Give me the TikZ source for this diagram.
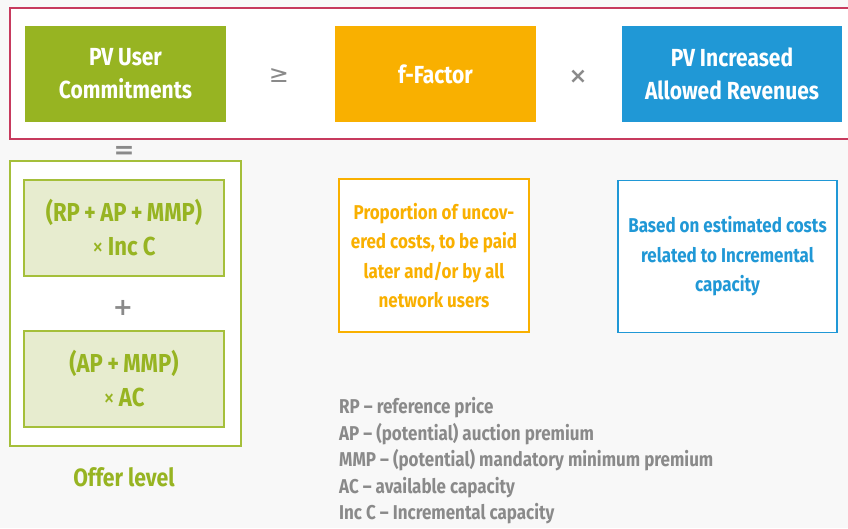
\documentclass[tikz,border=0pt]{standalone}
\usepackage{fontspec}
\setmainfont[FakeStretch=0.85]{Fira Sans}
\newfontfamily\symfont{DejaVu Sans}
\definecolor{bgc}{HTML}{F8F8F8}
\definecolor{grc}{HTML}{97B422}
\definecolor{orc}{HTML}{F9B000}
\definecolor{blc}{HTML}{2098D6}
\definecolor{lgfill}{HTML}{E7ECCF}
\definecolor{lgdraw}{HTML}{A5BF3A}
\definecolor{redc}{HTML}{C73A5E}
\definecolor{greyc}{HTML}{8A8A8A}
\tikzset{
  topbox/.style={minimum width=201pt, minimum height=96pt, inner sep=0pt, align=center,
    text=white, font=\fontsize{24.7}{33}\selectfont\bfseries},
  descbox/.style={inner sep=0pt, align=center, fill=white, line width=1.2pt,
    font=\fontsize{20}{29.5}\selectfont\bfseries},
  formbox/.style={minimum width=200pt, minimum height=96pt, inner sep=0pt, align=center,
    fill=lgfill, draw=lgdraw, line width=1.5pt, text=grc,
    font=\fontsize{26}{34}\selectfont\bfseries},
  opsym/.style={text=greyc, inner sep=0pt},
}
\begin{document}
\begin{tikzpicture}[x=1pt,y=-1pt]
\useasboundingbox (0,0) rectangle (848,528);
\fill[bgc] (0,0) rectangle (848,528);
% top frame
\fill[white] (10,8) rectangle (848,139);
\draw[redc, line width=1.5pt] (848,8) -- (10,8) -- (10,139) -- (848,139);
% top boxes
\node[topbox, fill=grc] (puc) at (125.5,74) {PV User\\Commitments};
\node[topbox, fill=orc] (ff) at (435.5,74) {f-Factor};
\node[topbox, fill=blc, minimum width=220pt] (pvi) at (732,74) {PV Increased\\Allowed Revenues};
\node[opsym, font=\symfont\fontsize{24}{24}\selectfont] (geq) at (279,76) {≥};
\node[opsym, font=\symfont\bfseries\fontsize{22}{22}\selectfont] (times) at (578,77) {×};
\node[opsym, font=\symfont\bfseries\fontsize{25}{25}\selectfont] (eq) at (124,152.5) {=};
% offer level frame
\node[draw=lgdraw, fill=white, line width=1.5pt, minimum width=231pt, minimum height=285pt, inner sep=0pt] (offer) at (125.5,303.5) {};
\node[formbox] (f1) at (124,228) {(RP\,+\,AP\,+\,MMP)\\{\mdseries×}\,Inc C};
\node[opsym, font=\symfont\bfseries\fontsize{24}{24}\selectfont] (plus) at (123,308) {+};
\node[formbox] (f2) at (124,379) {(AP\,+\,MMP)\\{\mdseries×}\,AC};
\node[text=grc, inner sep=0pt, font=\fontsize{25}{30}\selectfont\bfseries] (ol) at (124,477) {Offer level};
% description boxes
\node[descbox, draw=orc, text=orc, minimum width=190pt, minimum height=153pt] (d1) at (434,255.5)
  {Proportion of uncov-\\ered costs, to be paid\\later and/or by all\\network users};
\node[descbox, draw=blc, text=blc, minimum width=219pt, minimum height=152pt] (d2) at (727.5,256.5)
  {Based on estimated costs\\related to Incremental\\capacity};
% legend
\node[anchor=west, inner sep=0pt, align=left, text=greyc, font=\fontsize{20}{26.5}\selectfont\bfseries] (leg) at (339,461)
  {RP -- reference price\\AP -- (potential) auction premium\\MMP -- (potential) mandatory minimum premium\\AC -- available capacity\\Inc C -- Incremental capacity};
\end{tikzpicture}
\end{document}
